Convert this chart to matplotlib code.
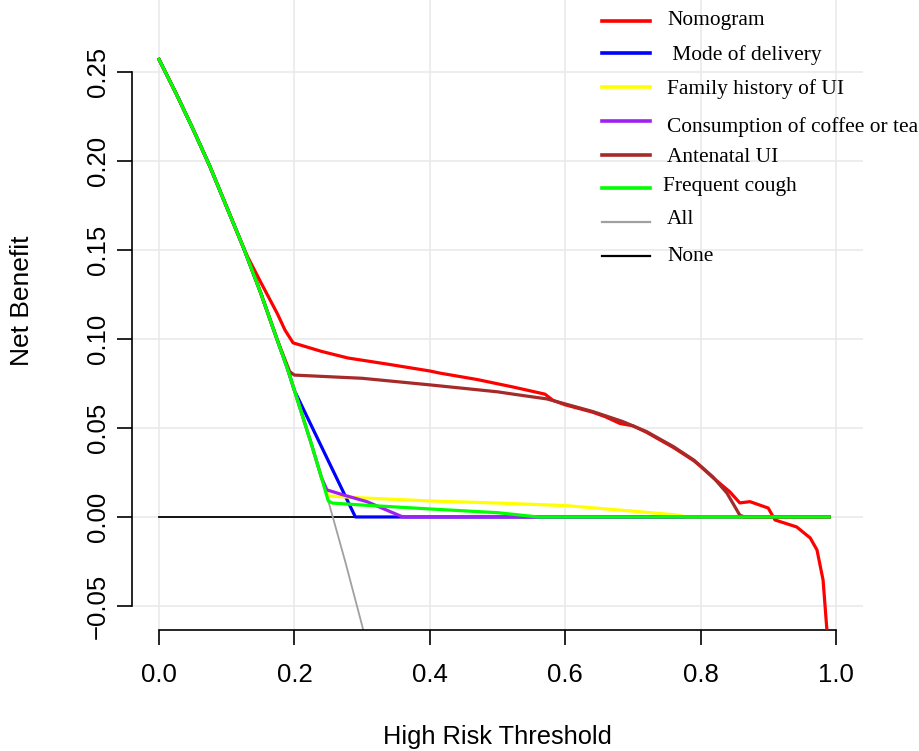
import matplotlib
matplotlib.use("Agg")
import matplotlib.pyplot as plt
from matplotlib.lines import Line2D

# ---------------- data ----------------
# shared "treat all"-like head of the curves
head_x = [0.0, 0.025, 0.05, 0.075, 0.10, 0.125, 0.15, 0.175, 0.19, 0.20, 0.225, 0.24, 0.25]
head_y = [0.257, 0.238, 0.218, 0.197, 0.174, 0.151, 0.126, 0.099, 0.083, 0.071, 0.041, 0.022, 0.009]

all_x = head_x + [0.275, 0.30, 0.325]
all_y = head_y + [-0.025, -0.061, -0.101]

none_x = [0.0, 0.99]
none_y = [0.0, 0.0]

nomo_x = [0.0, 0.025, 0.05, 0.075, 0.10, 0.125, 0.131, 0.15, 0.175, 0.186, 0.198,
          0.24, 0.279, 0.34, 0.40, 0.415, 0.47, 0.523, 0.57, 0.582, 0.60, 0.641,
          0.66, 0.681, 0.70, 0.72, 0.76, 0.79, 0.80, 0.818, 0.843, 0.858, 0.873,
          0.90, 0.91, 0.942, 0.962, 0.972, 0.981, 0.99]
nomo_y = [0.257, 0.238, 0.218, 0.197, 0.174, 0.151, 0.146, 0.132, 0.114, 0.105, 0.0978,
          0.093, 0.0893, 0.0857, 0.082, 0.0808, 0.0772, 0.073, 0.069, 0.0655, 0.0630, 0.0588,
          0.0562, 0.0525, 0.0512, 0.0476, 0.0390, 0.0316, 0.0284, 0.0222, 0.0142, 0.0079, 0.0086,
          0.005, -0.0017, -0.0056, -0.0118, -0.0185, -0.0354, -0.080]

mode_x = head_x[:10] + [0.29, 0.99]
mode_y = head_y[:10] + [0.0, 0.0]

family_x = head_x[:12] + [0.25, 0.30, 0.40, 0.50, 0.60, 0.696, 0.765, 0.78, 0.99]
family_y = head_y[:12] + [0.0118, 0.0107, 0.0090, 0.0078, 0.0064, 0.0034, 0.0011, 0.0, 0.0]

coffee_x = head_x[:12] + [0.248, 0.272, 0.307, 0.36, 0.99]
coffee_y = head_y[:12] + [0.0152, 0.0124, 0.0086, 0.0, 0.0]

antenatal_x = head_x[:8] + [0.193, 0.20, 0.30, 0.40, 0.50, 0.523, 0.573, 0.60, 0.641,
                            0.685, 0.72, 0.76, 0.79, 0.818, 0.839, 0.858, 0.865, 0.99]
antenatal_y = head_y[:8] + [0.0816, 0.0797, 0.0779, 0.0742, 0.0703, 0.069, 0.0663, 0.0635, 0.0592,
                            0.0536, 0.048, 0.0395, 0.032, 0.0226, 0.0134, 0.001, 0.0, 0.0]

cough_x = head_x + [0.256, 0.30, 0.40, 0.50, 0.56, 0.99]
cough_y = head_y + [0.0078, 0.0067, 0.0045, 0.0024, 0.0, 0.0]

xticks = [0.0, 0.2, 0.4, 0.6, 0.8, 1.0]
yticks = [-0.05, 0.0, 0.05, 0.10, 0.15, 0.20, 0.25]
xtick_labels = ["0.0", "0.2", "0.4", "0.6", "0.8", "1.0"]
ytick_labels = ["\u22120.05", "0.00", "0.05", "0.10", "0.15", "0.20", "0.25"]

legend_labels = ["Nomogram", " Mode of delivery", "Family history of UI",
                 "Consumption of coffee or tea", "Antenatal UI", "Frequent cough",
                 "All", "None"]
legend_colors = ["#FF0000", "#0000FF", "#FFFF00", "#A020F0", "#A52A2A", "#00FF00",
                 "#A0A0A0", "#000000"]

# ---------------- figure ----------------
W, H = 920, 751
fig = plt.figure(figsize=(W / 100, H / 100), dpi=100)
ax = fig.add_axes([132 / W, 1 - 630 / H, (863 - 132) / W, 630 / H])
ax.set_xlim(-0.04, 1.04)
ax.set_ylim(-0.0635, 0.2904)

sans = ["Liberation Sans", "DejaVu Sans"]
serif = ["Liberation Serif", "DejaVu Serif"]

ax.grid(True, color="#E8E8E8", linewidth=1.1)
ax.set_axisbelow(True)

lw = 2.3
ax.plot(none_x, none_y, color="#000000", lw=1.3, zorder=2)
ax.plot(all_x, all_y, color="#A0A0A0", lw=1.3, zorder=2)
ax.plot(nomo_x, nomo_y, color="#FF0000", lw=lw, zorder=3)
ax.plot(mode_x, mode_y, color="#0000FF", lw=lw, zorder=3)
ax.plot(family_x, family_y, color="#FFFF00", lw=lw, zorder=3)
ax.plot(coffee_x, coffee_y, color="#A020F0", lw=lw, zorder=3)
ax.plot(antenatal_x, antenatal_y, color="#A52A2A", lw=lw, zorder=3)
ax.plot(cough_x, cough_y, color="#00FF00", lw=lw, zorder=3)

for s in ["top", "right"]:
    ax.spines[s].set_visible(False)
ax.spines["left"].set_bounds(-0.05, 0.25)
ax.spines["bottom"].set_bounds(0.0, 1.0)
for s in ["left", "bottom"]:
    ax.spines[s].set_linewidth(1.2)
    ax.spines[s].set_color("black")

ax.set_xticks(xticks)
ax.set_xticklabels(xtick_labels, fontfamily=sans, fontsize=18.5)
ax.set_yticks(yticks)
ax.set_yticklabels(ytick_labels, fontfamily=sans, fontsize=18.5, rotation=90, va="center")
ax.tick_params(axis="both", direction="out", length=11, width=1.2, color="black")
ax.tick_params(axis="x", pad=13)
ax.tick_params(axis="y", pad=5)

ax.set_xlabel("High Risk Threshold", fontfamily=sans, fontsize=18.3, va="center")
ax.xaxis.set_label_coords((497 - 132) / 731, (630 - 737) / 630)
ax.set_ylabel("Net Benefit", fontfamily=sans, fontsize=19, va="center")
ax.yaxis.set_label_coords((22 - 132) / 731, (630 - 301) / 630)

# ---------------- legend (manual, R-style) ----------------
line_y = [21, 53, 87, 121, 155, 188, 222, 256]
text_y = [21, 55, 89, 127, 157, 186, 219, 257]
text_x = [667, 667, 667, 667, 667, 663, 667, 667]
for i, (lab, col) in enumerate(zip(legend_labels, legend_colors)):
    lwid = 1.6 if i >= 6 else 2.6
    fig.add_artist(Line2D([602 / W, 650 / W], [1 - line_y[i] / H] * 2,
                          color=col, lw=lwid, transform=fig.transFigure))
    fig.text(text_x[i] / W, 1 - text_y[i] / H, lab, fontfamily=serif, fontsize=15.4,
             ha="left", va="center")

fig.savefig("out.png", dpi=100)
